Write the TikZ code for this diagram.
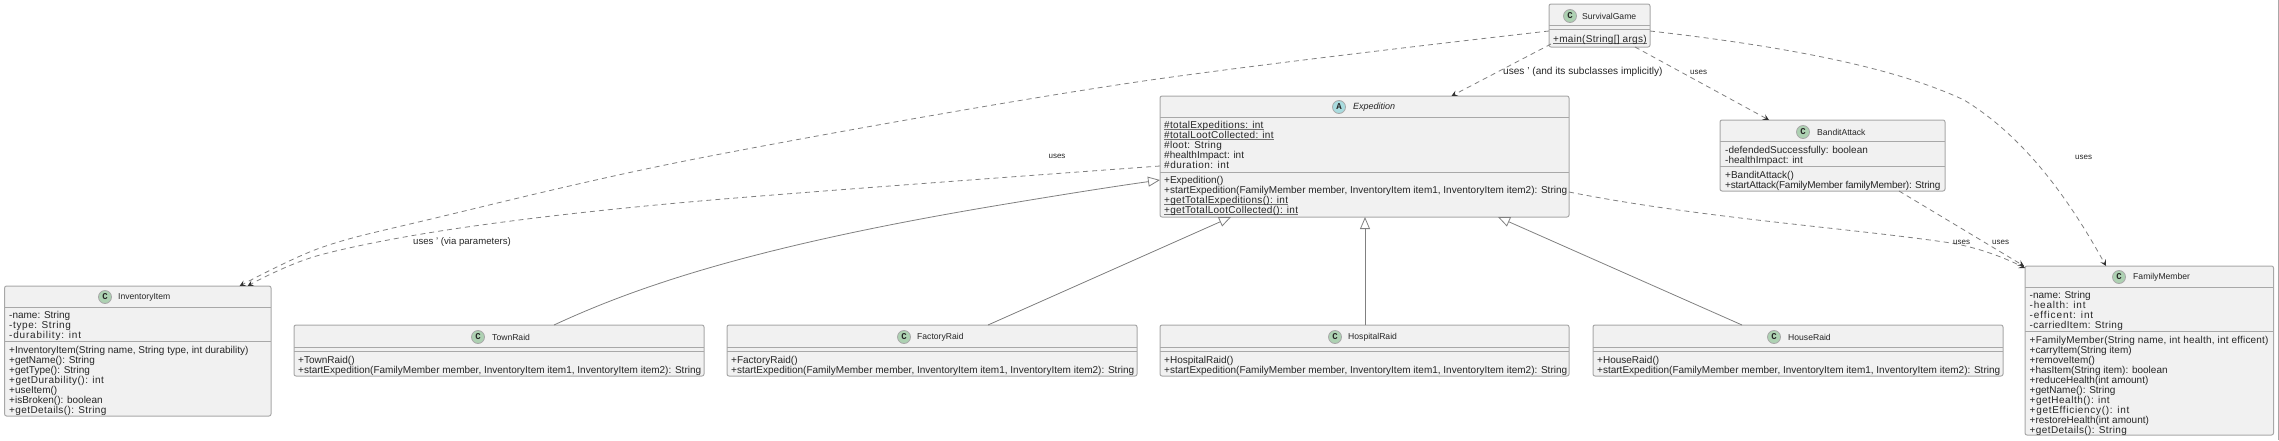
\documentclass[tikz,border=0pt]{standalone}
\usepackage{fontspec}
\setmainfont{Liberation Sans}
\newfontfamily\badgefont{Liberation Mono}
\usetikzlibrary{arrows.meta,calc}
\lineskiplimit=-20pt\relax
\definecolor{boxfill}{HTML}{F1F1F1}
\definecolor{boxline}{HTML}{A8A8A8}
\definecolor{linkline}{HTML}{808080}
\definecolor{ulinegray}{HTML}{707070}
\definecolor{classgreen}{HTML}{ADD1B2}
\definecolor{abstractblue}{HTML}{A9DCDF}
\tikzset{
  umlbox/.style={draw=boxline,fill=boxfill,line width=1pt,rounded corners=2pt,inner sep=0pt,outer sep=0pt},
  sepline/.style={draw=boxline,line width=1pt},
  badge/.style={circle,draw=boxline,line width=0.8pt,minimum size=13pt,inner sep=0pt,text=black!85,font=\badgefont\bfseries\fontsize{9}{9}\selectfont},
  title/.style={anchor=west,inner sep=0pt,text=black!85,font=\fontsize{8.6}{10}\selectfont},
  members/.style={anchor=north west,inner sep=0pt,align=left,text=black!85,font=\fontsize{10}{10}\selectfont},
  edgelabel/.style={inner sep=0pt,text=black!85,font=\fontsize{8}{10}\selectfont},
  usesline/.style={draw=linkline,line width=0.8pt,dash pattern=on 5pt off 4pt,-{Stealth[length=6pt,width=6pt,inset=2.5pt,color=black!80,fill=black!80]}},
  extendsline/.style={draw=linkline,line width=0.8pt,-{Triangle[open,fill=white,length=12pt,width=10pt]}}
}
\newcommand{\umlcls}[5]{\pgfmathsetmacro\cw{#4-#2}\pgfmathsetmacro\ch{#5-#3}\node[umlbox,minimum width=\cw pt,minimum height=\ch pt,anchor=north west](#1) at (#2,#3){};}
\newcommand{\umlsep}[3]{\draw[sepline] (#1,#3) -- (#2,#3);}
\newcommand{\ls}{\strut}
\newsavebox\ulbox
\newcommand{\uln}[1]{\sbox\ulbox{#1}\rlap{\textcolor{ulinegray}{\rule[-1.3pt]{\wd\ulbox}{0.7pt}}}\usebox\ulbox}
\newcommand{\lsp}[2]{{\addfontfeature{LetterSpace=#1}#2}}
\begin{document}
\begin{tikzpicture}[x=1pt,y=-1pt]
\useasboundingbox (0,0) rectangle (2279,440);
\draw[draw=boxline,line width=1pt] (2278.5,0) -- (2278.5,440);
% classes
\umlcls{survival}{1549}{4}{1650}{47}
\umlsep{1549}{1650}{25}\umlsep{1549}{1650}{29}
\node[badge,fill=classgreen](survivalB) at (1570,16){C};
\node[title](survivalT) at (1582,16){SurvivalGame};
\node[members](survivalM) at (1553,35.3){\ls\uln{\lsp{3}{+main(String[] args)}}};

\umlcls{expedition}{1160}{96}{1569}{217}
\umlsep{1160}{1569}{117}\umlsep{1160}{1569}{172}
\node[badge,fill=abstractblue](expeditionB) at (1339,107){A};
\node[title,font=\itshape\fontsize{9}{10}\selectfont](expeditionT) at (1353,107){Expedition};
\node[members](expeditionF) at (1164,121.3){\ls\uln{\lsp{3}{\#totalExpeditions: int}}\\\ls\uln{\lsp{3}{\#totalLootCollected: int}}\\\ls\lsp{3}{\#loot: String}\\\ls\#healthImpact: int\\\ls\lsp{5}{\#duration: int}};
\node[members](expeditionM) at (1164,176.3){\ls+Expedition()\\\ls+startExpedition(FamilyMember member, InventoryItem item1, InventoryItem item2): String\\\ls\uln{\lsp{3}{+getTotalExpeditions(): int}}\\\ls\uln{\lsp{3}{+getTotalLootCollected(): int}}};

\umlcls{bandit}{1720}{120}{1945}{191}
\umlsep{1720}{1945}{141}\umlsep{1720}{1945}{166}
\node[badge,fill=classgreen](banditB) at (1803,132){C};
\node[title](banditT) at (1817,132){BanditAttack};
\node[members](banditF) at (1725,146.3){\ls-defendedSuccessfully: boolean\\\ls-healthImpact: int};
\node[members](banditM) at (1725,171.3){\ls+BanditAttack()\\\ls\lsp{-2}{+startAttack(FamilyMember familyMember): String}};

\umlcls{family}{2025}{266}{2273.5}{435}
\umlsep{2025}{2273.5}{287}\umlsep{2025}{2273.5}{331}
\node[badge,fill=classgreen](familyB) at (2119,277){C};
\node[title](familyT) at (2133,277){FamilyMember};
\node[members](familyF) at (2029.5,291.3){\ls-name: String\\\ls\lsp{8}{-health: int}\\\ls\lsp{9}{-efficent: int}\\\ls\lsp{4}{-carriedItem: String}};
\node[members](familyM) at (2029.5,336.3){\ls\lsp{2}{+FamilyMember(String name, int health, int efficent)}\\\ls+carryItem(String item)\\\ls+removeItem()\\\ls+hasItem(String item): boolean\\\ls+reduceHealth(int amount)\\\ls+getName(): String\\\ls\lsp{5}{+getHealth(): int}\\\ls\lsp{7}{+getEfficiency(): int}\\\ls+restoreHealth(int amount)\\\ls\lsp{4}{+getDetails(): String}};

\umlcls{inventory}{4.6}{286}{271}{416}
\umlsep{4.6}{271}{307}\umlsep{4.6}{271}{341}
\node[badge,fill=classgreen](inventoryB) at (105,297){C};
\node[title](inventoryT) at (118,297){InventoryItem};
\node[members](inventoryF) at (9,311.3){\ls-name: String\\\ls\lsp{6}{-type: String}\\\ls\lsp{8}{-durability: int}};
\node[members](inventoryM) at (9,346.3){\ls+InventoryItem(String name, String type, int durability)\\\ls+getName(): String\\\ls+getType(): String\\\ls\lsp{5}{+getDurability(): int}\\\ls+useItem()\\\ls+isBroken(): boolean\\\ls\lsp{4}{+getDetails(): String}};

\umlcls{town}{294}{325}{704}{376}
\umlsep{294}{704}{347}\umlsep{294}{704}{351}
\node[badge,fill=classgreen](townB) at (478,337){C};
\node[title](townT) at (492,337){TownRaid};
\node[members](townM) at (298,356.3){\ls+TownRaid()\\\ls+startExpedition(FamilyMember member, InventoryItem item1, InventoryItem item2): String};

\umlcls{factory}{727}{325}{1137}{376}
\umlsep{727}{1137}{347}\umlsep{727}{1137}{351}
\node[badge,fill=classgreen](factoryB) at (904,337){C};
\node[title](factoryT) at (917,337){FactoryRaid};
\node[members](factoryM) at (731,356.3){\ls+FactoryRaid()\\\ls+startExpedition(FamilyMember member, InventoryItem item1, InventoryItem item2): String};

\umlcls{hospital}{1160}{325}{1569}{376}
\umlsep{1160}{1569}{347}\umlsep{1160}{1569}{351}
\node[badge,fill=classgreen](hospitalB) at (1335,337){C};
\node[title](hospitalT) at (1348,337){HospitalRaid};
\node[members](hospitalM) at (1164,356.3){\ls+HospitalRaid()\\\ls+startExpedition(FamilyMember member, InventoryItem item1, InventoryItem item2): String};

\umlcls{house}{1593}{325}{2003}{376}
\umlsep{1593}{2003}{347}\umlsep{1593}{2003}{351}
\node[badge,fill=classgreen](houseB) at (1774,337){C};
\node[title](houseT) at (1788,337){HouseRaid};
\node[members](houseM) at (1597,356.3){\ls+HouseRaid()\\\ls+startExpedition(FamilyMember member, InventoryItem item1, InventoryItem item2): String};

% inheritance
\draw[extendsline] ($(town.north west)+(260,0)$) .. controls (640,285) and (760,245) .. (1000,205) .. controls (1060,195) and (1110,187) .. ($(expedition.north west)+(0,84)$);
\draw[extendsline] ($(factory.north west)+(261,0)$) -- ($(expedition.south west)+(71,0)$);
\draw[extendsline] ($(hospital.north west)+(205,0)$) -- ($(expedition.south west)+(205,0)$);
\draw[extendsline] ($(house.north west)+(149,0)$) -- ($(expedition.south west)+(338,0)$);

% dependencies
\draw[usesline] plot[smooth,tension=0.55] coordinates {($(survival.north west)+(0,27)$) (1130,83) (700,158) (427,220) (320,248) ($(inventory.north west)+(235,0)$)};
\draw[usesline] plot[smooth,tension=0.55] coordinates {($(expedition.north west)+(0,70)$) (700,201) (467,227) (320,255) ($(inventory.north west)+(243,0)$)};
\draw[usesline] ($(survival.south west)+(2,-3)$) -- ($(expedition.north west)+(291.5,0)$);
\draw[usesline] ($(survival.south west)+(86,0)$) -- ($(bandit.north west)+(49,0)$);
\draw[usesline] ($(survival.north east)+(0,27)$) .. controls (1800,48) and (1900,70) .. (1964,100) .. controls (2030,140) and (2075,210) .. ($(family.north west)+(81,0)$);
\draw[usesline] ($(expedition.north east)+(0,96)$) .. controls (1700,218) and (1850,228) .. (1951,243) .. controls (1980,248) and (2005,258) .. ($(family.north west)+(0,2)$);
\draw[usesline] ($(bandit.south west)+(179,0)$) -- ($(family.north west)+(-1,0)$);

% labels
\node[edgelabel,anchor=west,font=\fontsize{10.1}{10}\selectfont](lblExp) at (1503,72){uses ' (and its subclasses implicitly)};
\node[edgelabel,anchor=west](lblBandit) at (1690,72){uses};
\node[edgelabel,anchor=west](lblFam) at (2075,157){uses};
\node[edgelabel,anchor=west](lblExpFam) at (1953,242){uses};
\node[edgelabel,anchor=west](lblBanFam) at (1992,242){uses};
\node[edgelabel](lblInv) at (1057,156){uses};
\node[edgelabel,anchor=west,font=\fontsize{9.6}{10}\selectfont](lblParam) at (413,242){uses ' (via parameters)};
\end{tikzpicture}
\end{document}
